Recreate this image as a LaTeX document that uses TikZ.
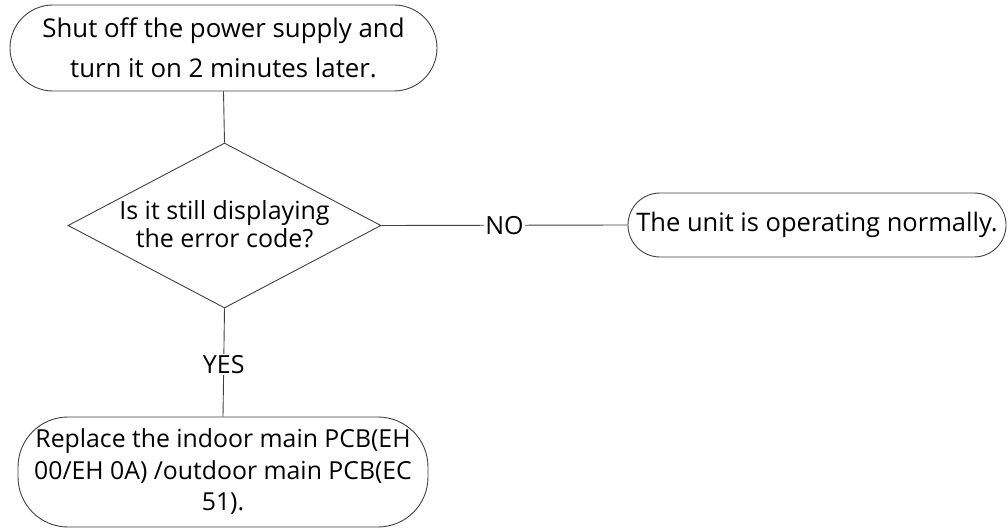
\documentclass[tikz,border=0pt]{standalone}
\usepackage{fontspec}
\setmainfont{Open Sans}
\usetikzlibrary{shapes.geometric}
\tikzset{
  every picture/.style={x=1pt,y=-1pt},
  box/.style={draw=black!75, line width=0.9pt, rounded corners=#1, inner sep=0pt, align=center, fill=white},
  dia/.style={draw=black!75, line width=0.9pt, diamond, inner sep=0pt},
  conn/.style={draw=black!75, line width=0.9pt},
  lbl/.style={fill=white, inner sep=1pt, font=\fontsize{25}{28}\selectfont},
}
\begin{document}
\begin{tikzpicture}
\useasboundingbox (0,0) rectangle (1008,529);
\node[box=43pt, minimum width=427pt, minimum height=86pt, font=\fontsize{25.8}{40}\selectfont] (top) at (223.5,48) {Shut off the power supply and\\turn it on 2 minutes later.};
\node[dia, minimum width=313pt, minimum height=165pt] (q) at (224.5,225.5) {};
\node[align=center, inner sep=0pt, font=\fontsize{25}{28}\selectfont] (qt) at (224.5,224) {Is it still displaying\\the error code?};
\node[box=32pt, minimum width=378pt, minimum height=64pt, font=\fontsize{25.5}{28}\selectfont] (ok) at (817,225) {The unit is operating normally.};
\node[box=50pt, minimum width=410pt, minimum height=110pt, font=\fontsize{24.8}{31.5}\selectfont] (rep) at (223,472) {Replace the indoor main PCB(EH\\00/EH 0A) /outdoor main PCB(EC\\51).};
\draw[conn] (top.south) -- (q.north);
\draw[conn] (q.east) -- node[lbl] {NO} (ok.west);
\draw[conn] (q.south) -- node[lbl, yshift=-2pt] {YES} (rep.north);
\end{tikzpicture}
\end{document}
